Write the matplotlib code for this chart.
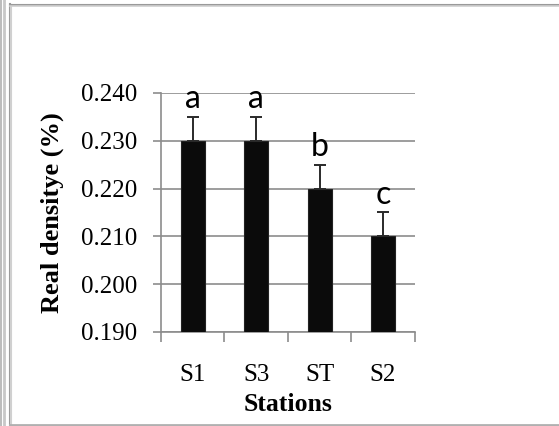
import matplotlib
matplotlib.use("Agg")
import matplotlib.pyplot as plt
from matplotlib.lines import Line2D

# Data
stations = ["S1", "S3", "ST", "S2"]
density = [0.230, 0.230, 0.220, 0.210]
errors = [0.005, 0.005, 0.005, 0.005]
letters = ["a", "a", "b", "c"]
yticks = [0.190, 0.200, 0.210, 0.220, 0.230, 0.240]

fig = plt.figure(figsize=(5.59, 4.26), dpi=100)
ax = fig.add_axes([0.288, 0.2207, 0.454, 0.561])

x = list(range(len(stations)))
ax.bar(x, [d - 0.190 for d in density], bottom=0.190, width=0.38,
       color="#0b0b0b", edgecolor="#222222", linewidth=0.8, zorder=3)
ax.errorbar(x, density, yerr=[[0] * len(errors), errors], fmt="none",
            ecolor="#2a2a2a", elinewidth=1.4, capsize=4.5, capthick=1.4, zorder=4)

for xi, d, e, lab in zip(x, density, errors, letters):
    ax.text(xi, d + e + 0.0006, lab, ha="center", va="bottom",
            fontsize=23, family="Lato", color="black", zorder=5)

ax.set_xlim(-0.5, len(stations) - 0.5)
ax.set_ylim(0.190, 0.240)
ax.set_yticks(yticks)
ax.set_yticklabels([f"{t:.3f}" for t in yticks], family="Liberation Serif", fontsize=18)
ax.yaxis.grid(True, color="#8c8c8c", linewidth=1.2, zorder=0)
ax.set_axisbelow(True)

ax.set_xticks(x)
ax.set_xticklabels(stations, family="Liberation Serif", fontsize=18)
ax.tick_params(axis="x", length=0, pad=23)
ax.set_xticks([i - 0.5 for i in range(len(stations) + 1)], minor=True)
ax.tick_params(axis="x", which="minor", length=7, width=1.2, color="#8c8c8c", direction="out")
ax.tick_params(axis="y", length=6, width=1.2, color="#8c8c8c", direction="out", pad=11)

for side in ["top", "right"]:
    ax.spines[side].set_visible(False)
for side in ["left", "bottom"]:
    ax.spines[side].set_color("#8c8c8c")
    ax.spines[side].set_linewidth(1.2)

ax.set_ylabel("Real densitye (%)", family="Liberation Serif", fontsize=19,
              fontweight="bold", labelpad=12)
ax.set_xlabel("Stations", family="Liberation Serif", fontsize=18.5,
              fontweight="bold", labelpad=5)

# Outer frame lines like the pasted figure box
W, H = 559.0, 426.0
def fx(px):
    return px / W
def fy(py):
    return 1 - py / H
frame = [
    ([fx(0.8), fx(0.8)], [0, 1], "#bdbdbd", 1.5),
    ([fx(4), fx(4)], [0, 1], "#c8c8c8", 2.0),
    ([fx(9.5), fx(9.5)], [fy(4), fy(425)], "#9a9a9a", 1.5),
    ([fx(11), fx(11)], [fy(5), fy(425)], "#d0d0d0", 1.5),
    ([fx(9.5), 1], [fy(4.5), fy(4.5)], "#9a9a9a", 1.5),
    ([fx(9.5), 1], [fy(6), fy(6)], "#d0d0d0", 1.2),
    ([fx(9.5), 1], [fy(424.5), fy(424.5)], "#b0b0b0", 2.0),
]
for xs, ys, c, lw in frame:
    fig.add_artist(Line2D(xs, ys, color=c, linewidth=lw, transform=fig.transFigure))

fig.savefig("out.png", dpi=100)
